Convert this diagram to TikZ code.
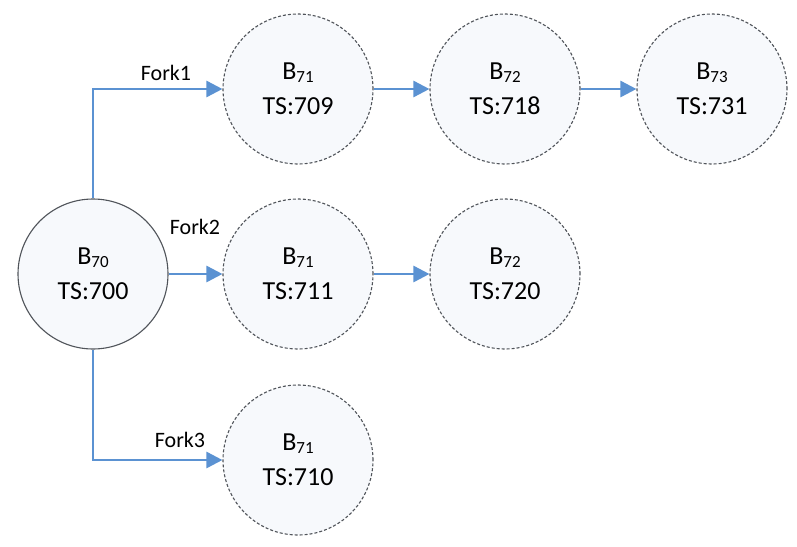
\documentclass[tikz,border=0pt]{standalone}
\usepackage{fontspec}
\setmainfont{Carlito}
\usetikzlibrary{arrows.meta}
\definecolor{arrowblue}{RGB}{91,146,210}
\definecolor{nodefill}{RGB}{247,249,252}
\definecolor{nodeedge}{RGB}{80,84,90}
\newcommand{\blk}[2]{B\raisebox{-3pt}{\fontsize{17}{17}\selectfont #1}\\TS:#2}
\tikzset{
  bnode/.style={circle, minimum size=150pt, inner sep=0pt, fill=nodefill, align=center,
    font=\fontsize{26}{35}\selectfont, text=black},
  rootnode/.style={bnode, draw=nodeedge, line width=1.1pt},
  dashnode/.style={bnode, draw=nodeedge, line width=1.1pt, dash pattern=on 3pt off 2pt},
  conn/.style={draw=arrowblue, line width=2.6pt, -{Triangle[length=16pt,width=16pt]}},
  forklabel/.style={font=\fontsize{22}{22}\selectfont, inner sep=0pt}
}
\begin{document}
\begin{tikzpicture}[x=1pt,y=-1pt]
\useasboundingbox (0,0) rectangle (797,546);
\node[rootnode] (b70) at (93,274) {\blk{70}{700}};
\node[dashnode] (t71) at (298,89) {\blk{71}{709}};
\node[dashnode] (t72) at (505,89) {\blk{72}{718}};
\node[dashnode] (t73) at (712,89) {\blk{73}{731}};
\node[dashnode] (m71) at (298,274) {\blk{71}{711}};
\node[dashnode] (m72) at (505,274) {\blk{72}{720}};
\node[dashnode] (l71) at (298,460) {\blk{71}{710}};
\draw[conn] (b70.north) |- (t71.west);
\draw[conn] (b70.east) -- (m71.west);
\draw[conn] (b70.south) |- (l71.west);
\draw[conn] (t71.east) -- (t72.west);
\draw[conn] (t72.east) -- (t73.west);
\draw[conn] (m71.east) -- (m72.west);
\node[forklabel] (f1) at (166,73) {Fork1};
\node[forklabel] (f2) at (195,227) {Fork2};
\node[forklabel] (f3) at (180,440) {Fork3};
\end{tikzpicture}
\end{document}
